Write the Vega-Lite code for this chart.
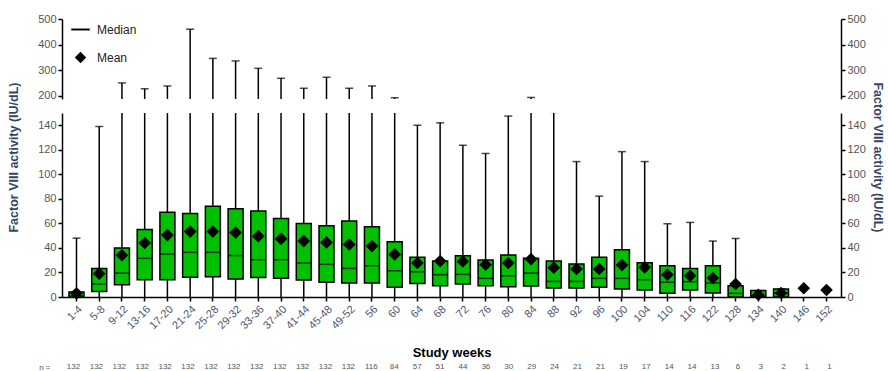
{
  "$schema": "https://vega.github.io/schema/vega-lite/v6.json",
  "background": "white",
  "padding": {"left": 7, "top": 13, "right": 0, "bottom": 0},
  "bounds": "full",
  "spacing": 2,
  "datasets": {
    "box": [
      {"week": "1-4", "n": 132, "lo": 0, "q1": 0, "med": 1, "q3": 4, "hi": 48, "mean": 3},
      {"week": "5-8", "n": 132, "lo": 0, "q1": 4.4, "med": 10.6, "q3": 23.3, "hi": 139, "mean": 19},
      {"week": "9-12", "n": 132, "lo": 0, "q1": 10, "med": 19.5, "q3": 40, "hi": 250, "mean": 34},
      {"week": "13-16", "n": 132, "lo": 0, "q1": 14, "med": 31.5, "q3": 55, "hi": 227, "mean": 44},
      {"week": "17-20", "n": 132, "lo": 0, "q1": 14, "med": 35, "q3": 69, "hi": 238, "mean": 50.5},
      {"week": "21-24", "n": 132, "lo": 0, "q1": 16, "med": 36.4, "q3": 68, "hi": 460, "mean": 53.3},
      {"week": "25-28", "n": 132, "lo": 0, "q1": 16.5, "med": 36.4, "q3": 74, "hi": 346, "mean": 53.3},
      {"week": "29-32", "n": 132, "lo": 0, "q1": 14.7, "med": 33.8, "q3": 72, "hi": 336, "mean": 52.5},
      {"week": "33-36", "n": 132, "lo": 0, "q1": 15.8, "med": 30.4, "q3": 70.2, "hi": 307, "mean": 49.6},
      {"week": "37-40", "n": 132, "lo": 0, "q1": 15.2, "med": 30.4, "q3": 64, "hi": 268, "mean": 47.4},
      {"week": "41-44", "n": 132, "lo": 0, "q1": 13.8, "med": 27.7, "q3": 60, "hi": 229, "mean": 45.6},
      {"week": "45-48", "n": 132, "lo": 0, "q1": 12, "med": 26.6, "q3": 58, "hi": 272, "mean": 44.5},
      {"week": "49-52", "n": 132, "lo": 0, "q1": 11.4, "med": 23.3, "q3": 62, "hi": 229, "mean": 42.9},
      {"week": "56", "n": 116, "lo": 0, "q1": 11.4, "med": 25.5, "q3": 57.2, "hi": 238, "mean": 41.5},
      {"week": "60", "n": 84, "lo": 0, "q1": 7.9, "med": 21.4, "q3": 45, "hi": 192, "mean": 34.7},
      {"week": "64", "n": 57, "lo": 0, "q1": 11.1, "med": 20.6, "q3": 32.5, "hi": 140, "mean": 27.7},
      {"week": "68", "n": 51, "lo": 0, "q1": 9.2, "med": 18.2, "q3": 29.3, "hi": 142, "mean": 29.3},
      {"week": "72", "n": 44, "lo": 0, "q1": 10.6, "med": 18.4, "q3": 33.6, "hi": 123.7, "mean": 29},
      {"week": "76", "n": 36, "lo": 0, "q1": 9.2, "med": 15.2, "q3": 30.1, "hi": 117, "mean": 26.3},
      {"week": "80", "n": 30, "lo": 0, "q1": 8.4, "med": 17.3, "q3": 34.2, "hi": 147.5, "mean": 27.7},
      {"week": "84", "n": 29, "lo": 0, "q1": 9, "med": 19.5, "q3": 31.5, "hi": 193, "mean": 30.9},
      {"week": "88", "n": 24, "lo": 0, "q1": 7.3, "med": 12.7, "q3": 29.3, "hi": 150.5, "mean": 23.9},
      {"week": "92", "n": 21, "lo": 0, "q1": 7.3, "med": 12.7, "q3": 26.9, "hi": 110.4, "mean": 22.8},
      {"week": "96", "n": 21, "lo": 0, "q1": 7.9, "med": 15.2, "q3": 32.5, "hi": 82.2, "mean": 22.8},
      {"week": "100", "n": 19, "lo": 0, "q1": 6.5, "med": 15.2, "q3": 38.5, "hi": 118.5, "mean": 26},
      {"week": "104", "n": 17, "lo": 0, "q1": 5.7, "med": 14.1, "q3": 27.9, "hi": 110.4, "mean": 24.2},
      {"week": "110", "n": 14, "lo": 0, "q1": 3, "med": 12, "q3": 25.5, "hi": 59.7, "mean": 18.2},
      {"week": "116", "n": 14, "lo": 0, "q1": 5.7, "med": 12.5, "q3": 23.3, "hi": 60.8, "mean": 17.3},
      {"week": "122", "n": 13, "lo": 0, "q1": 3.3, "med": 11.4, "q3": 25.5, "hi": 45.6, "mean": 15.5},
      {"week": "128", "n": 6, "lo": 0, "q1": 0, "med": 3, "q3": 9.2, "hi": 47.7, "mean": 10.6},
      {"week": "134", "n": 3, "lo": 0, "q1": 0, "med": 1, "q3": 5.2, "hi": 5.2, "mean": 1.8},
      {"week": "140", "n": 2, "lo": 0, "q1": 0, "med": 3, "q3": 6.5, "hi": 6.5, "mean": 3.3},
      {"week": "146", "n": 1, "lo": null, "q1": null, "med": null, "q3": null, "hi": null, "mean": 7.1},
      {"week": "152", "n": 1, "lo": null, "q1": null, "med": null, "q3": null, "hi": null, "mean": 5.7}
    ]
  },
  "vconcat": [
    {
      "bounds": "flush",
      "spacing": 14,
      "vconcat": [
        {
          "width": 779,
          "height": 80,
          "data": {"name": "box"},
          "encoding": {
            "x": {
              "field": "week", "type": "nominal", "sort": null,
              "scale": {"domain": ["1-4","5-8","9-12","13-16","17-20","21-24","25-28","29-32","33-36","37-40","41-44","45-48","49-52","56","60","64","68","72","76","80","84","88","92","96","100","104","110","116","122","128","134","140","146","152"], "paddingInner": 0, "paddingOuter": 0.138},
              "axis": null
            }
          },
          "layer": [
            {
              "mark": {"type": "rule", "color": "black", "strokeWidth": 1.5, "clip": true},
              "encoding": {
                "y": {"field": "lo", "type": "quantitative", "scale": {"domain": [187, 500], "nice": false, "zero": false},
                      "axis": {"orient": "left", "values": [200, 300, 400, 500], "title": null}},
                "y2": {"field": "hi"}
              }
            },
            {
              "mark": {"type": "tick", "size": 8, "thickness": 1.5, "color": "black", "clip": true},
              "encoding": {
                "y": {"field": "hi", "type": "quantitative",
                      "axis": {"orient": "right", "values": [200, 300, 400, 500], "title": null}}
              }
            },
            {
              "mark": {"type": "point", "filled": true, "color": "black", "opacity": 1, "size": 130, "clip": true},
              "encoding": {
                "y": {"field": "mean", "type": "quantitative", "axis": null},
                "shape": {
                  "datum": "Mean", "type": "nominal",
                  "scale": {"domain": ["Median", "Mean"], "range": ["M-1.62,-0.17L1.62,-0.17L1.62,0.17L-1.62,0.17Z", "diamond"]},
                  "legend": {
                    "orient": "none", "legendX": 12, "legendY": 4, "title": null,
                    "labelFontSize": 12, "labelColor": "#222", "labelOffset": 10,
                    "symbolSize": 130, "symbolFillColor": "black",
                    "rowPadding": 12, "padding": 0
                  }
                }
              }
            }
          ],
          "resolve": {"axis": {"y": "independent"}}
        },
        {
          "width": 779,
          "height": 184,
          "data": {"name": "box"},
          "encoding": {
            "x": {
              "field": "week", "type": "nominal", "sort": null,
              "scale": {"domain": ["1-4","5-8","9-12","13-16","17-20","21-24","25-28","29-32","33-36","37-40","41-44","45-48","49-52","56","60","64","68","72","76","80","84","88","92","96","100","104","110","116","122","128","134","140","146","152"], "paddingInner": 0, "paddingOuter": 0.138},
              "axis": {
                "title": "Study weeks", "titleFontSize": 13, "titleFontWeight": "bold", "titleColor": "black", "titlePadding": 16,
                "labelAngle": -45, "labelFontSize": 11, "labelColor": "#4b5573"
              }
            }
          },
          "layer": [
            {
              "mark": {"type": "rule", "color": "black", "strokeWidth": 1.5, "clip": true},
              "encoding": {
                "y": {"field": "lo", "type": "quantitative", "scale": {"domain": [0, 150], "nice": false, "zero": false},
                      "axis": {"orient": "left", "values": [0, 20, 40, 60, 80, 100, 120, 140],
                               "title": "Factor VIII activity (IU/dL)", "titleY": 44, "titlePadding": 17,
                               "titleFontSize": 12.5, "titleFontWeight": "bold", "titleColor": "#34456a"}},
                "y2": {"field": "hi"}
              }
            },
            {
              "mark": {"type": "bar", "size": 15, "fill": "#00c000", "stroke": "black", "strokeWidth": 1.5},
              "encoding": {
                "y": {"field": "q1", "type": "quantitative",
                      "axis": {"orient": "right", "values": [0, 20, 40, 60, 80, 100, 120, 140],
                               "title": "Factor VIII activity (IU/dL)", "titleY": 44, "titleAngle": 90, "titlePadding": 5,
                               "titleFontSize": 12.5, "titleFontWeight": "bold", "titleColor": "#34456a"}},
                "y2": {"field": "q3"}
              }
            },
            {
              "mark": {"type": "tick", "size": 15, "thickness": 1.5, "color": "black"},
              "encoding": {"y": {"field": "med", "type": "quantitative", "axis": null}}
            },
            {
              "mark": {"type": "tick", "size": 8, "thickness": 1.5, "color": "black", "clip": true},
              "encoding": {"y": {"field": "hi", "type": "quantitative", "axis": null}}
            },
            {
              "mark": {"type": "point", "shape": "diamond", "size": 160, "filled": true, "color": "black", "opacity": 1},
              "encoding": {"y": {"field": "mean", "type": "quantitative", "axis": null}}
            }
          ],
          "resolve": {"axis": {"y": "independent"}}
        }
      ]
    },
    {
      "width": 779,
      "height": 10,
      "data": {"name": "box"},
      "mark": {"type": "text", "fontSize": 8, "color": "#555"},
      "encoding": {
        "x": {
          "field": "week", "type": "nominal", "sort": null,
          "scale": {"domain": ["1-4","5-8","9-12","13-16","17-20","21-24","25-28","29-32","33-36","37-40","41-44","45-48","49-52","56","60","64","68","72","76","80","84","88","92","96","100","104","110","116","122","128","134","140","146","152"], "paddingInner": 0, "paddingOuter": 0.138},
          "axis": null
        },
        "y": {"datum": "n", "type": "nominal",
              "axis": {"title": "n =", "titleAngle": 0, "labels": false, "ticks": false, "domain": false,
                       "titleFontSize": 8, "titleFontWeight": "normal", "titleColor": "#555", "titlePadding": 12,
                       "titleAlign": "right", "titleBaseline": "middle"}},
        "text": {"field": "n", "type": "quantitative"}
      }
    }
  ],
  "config": {
    "font": "Liberation Sans",
    "view": {"stroke": null},
    "axis": {"grid": false, "domainColor": "black", "domainWidth": 1.5, "tickColor": "black", "tickWidth": 1.5, "tickSize": 4,
             "labelColor": "#555", "labelFontSize": 11, "labelPadding": 2}
  }
}
